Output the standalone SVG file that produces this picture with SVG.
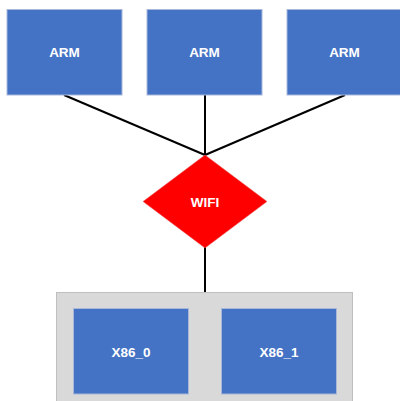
<svg xmlns="http://www.w3.org/2000/svg" width="400" height="401" viewBox="0 0 400 401">
<style>
.box{fill:#4472C4;stroke:#A9B8D9;stroke-width:1}
.lbl{font-family:"Liberation Sans",Arial,sans-serif;font-weight:bold;font-size:13.5px;fill:#FFFFFF;text-anchor:middle;dominant-baseline:central}
.edge{stroke:#000;stroke-width:2;fill:none}
</style>
<rect width="400" height="401" fill="#FFFFFF"/>
<g id="connectors">
<line class="edge" x1="64" y1="95" x2="205" y2="155"/>
<line class="edge" x1="205" y1="95" x2="205" y2="155"/>
<line class="edge" x1="345" y1="95" x2="205" y2="155"/>
<line class="edge" x1="205" y1="247" x2="205" y2="293"/>
</g>
<g id="arm0"><rect class="box" x="7" y="9.5" width="115" height="85.5"/><text class="lbl" x="64.5" y="52.5">ARM</text></g>
<g id="arm1"><rect class="box" x="147" y="9.5" width="115" height="85.5"/><text class="lbl" x="204.5" y="52.5">ARM</text></g>
<g id="arm2"><rect class="box" x="287" y="9.5" width="120" height="85.5"/><text class="lbl" x="344.5" y="52.5">ARM</text></g>
<g id="wifi"><polygon points="205,155 267,201.5 205,248 143,201.5" fill="#FF0000" stroke="#E06060" stroke-width="0.5"/><text class="lbl" x="205" y="202">WIFI</text></g>
<g id="x86group">
<rect x="56.5" y="292.5" width="296" height="115" fill="#D9D9D9" stroke="#BFBFBF" stroke-width="1"/>
<g id="x86_0"><rect class="box" x="73.5" y="308.5" width="115" height="85.5"/><text class="lbl" x="131" y="352">X86_0</text></g>
<g id="x86_1"><rect class="box" x="221.5" y="308.5" width="115" height="85.5"/><text class="lbl" x="279" y="352">X86_1</text></g>
</g>
</svg>
